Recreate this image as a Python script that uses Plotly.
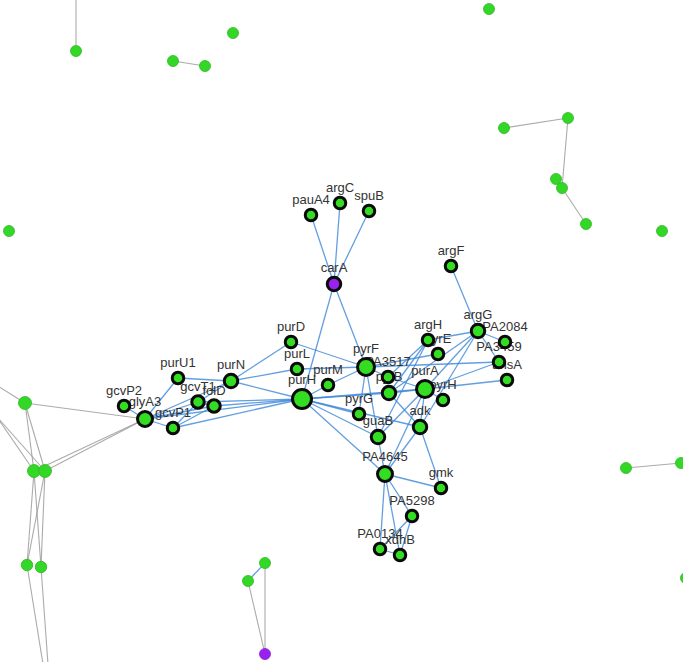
import plotly.graph_objects as go

# ---------------- data ----------------
# labelled (core) genes: name, layout x, layout y
core_names = ["pauA4", "argC", "spuB", "carA", "argF", "argG", "PA2084", "PA3459",
              "argH", "pyrE", "ansA", "purA", "pyrH", "PA3517", "pyrB", "pyrF",
              "purD", "purL", "purM", "purH", "pyrG", "guaB", "adk", "PA4645",
              "gmk", "PA5298", "PA0134", "xdhB", "purN", "purU1", "gcvT1", "folD",
              "gcvP2", "glyA3", "gcvP1"]
core_x = [311, 340, 369, 334, 451, 478, 505, 499,
          428, 438, 507, 425, 443, 388, 389, 366,
          291, 297, 328, 302, 359, 378, 420, 385,
          441, 412, 380, 400, 231, 178, 198, 214,
          124, 145, 173]
core_y = [215, 203, 211, 284, 266, 331, 342, 362,
          340, 354, 380, 389, 400, 377, 393, 367,
          342, 369, 385, 399, 414, 437, 427, 474,
          488, 516, 549, 555, 381, 378, 402, 406,
          406, 419, 428]
core_degree = [1, 1, 1, 5, 1, 6, 1, 3,
               3, 2, 2, 10, 1, 3, 5, 9,
               3, 3, 2, 16, 2, 5, 5, 8,
               2, 3, 3, 3, 5, 2, 4, 4,
               1, 8, 3]
core_group = ["g", "g", "g", "p", "g", "g", "g", "g",
              "g", "g", "g", "g", "g", "g", "g", "g",
              "g", "g", "g", "g", "g", "g", "g", "g",
              "g", "g", "g", "g", "g", "g", "g", "g",
              "g", "g", "g"]

core_edges = [
    ("carA", "pauA4"), ("carA", "argC"), ("carA", "spuB"), ("carA", "purH"), ("carA", "pyrF"),
    ("argF", "argG"), ("argG", "argH"), ("argG", "PA2084"), ("argG", "PA3459"), ("argG", "purA"),
    ("argG", "pyrB"), ("argG", "adk"), ("argH", "PA3517"), ("argH", "pyrB"), ("argH", "guaB"),
    ("pyrE", "pyrF"), ("pyrF", "PA3459"), ("purA", "ansA"), ("purA", "PA3459"), ("purA", "pyrH"),
    ("purA", "purH"), ("purA", "pyrB"), ("purA", "adk"), ("purA", "guaB"), ("purA", "PA4645"),
    ("purA", "PA3517"), ("purH", "pyrB"), ("purH", "adk"), ("purH", "guaB"), ("purH", "PA4645"),
    ("purH", "pyrG"), ("purH", "purN"), ("purH", "gcvT1"), ("purH", "folD"), ("purH", "glyA3"),
    ("purH", "gcvP1"), ("purH", "purM"), ("purD", "pyrF"), ("purD", "purN"), ("purL", "pyrF"),
    ("purL", "purN"), ("purM", "pyrF"), ("pyrF", "pyrG"), ("pyrF", "guaB"), ("pyrF", "PA3517"),
    ("pyrB", "adk"), ("guaB", "PA4645"), ("adk", "PA4645"), ("adk", "gmk"), ("PA4645", "gmk"),
    ("PA4645", "PA5298"), ("PA4645", "PA0134"), ("PA4645", "xdhB"), ("PA5298", "PA0134"),
    ("PA5298", "xdhB"), ("PA0134", "xdhB"), ("purN", "purU1"), ("purN", "gcvT1"), ("purN", "glyA3"),
    ("purU1", "glyA3"), ("glyA3", "gcvP2"), ("glyA3", "gcvT1"), ("glyA3", "folD"),
    ("glyA3", "gcvP1"), ("gcvT1", "folD"), ("gcvP1", "folD"), ("gcvT1", "gcvP1"),
]

# unlabelled peripheral genes
per_names = ["n1", "n1o", "n2", "n3", "n4", "n5", "n6", "n7", "n8", "n9", "n10",
             "n11", "n12", "n13", "n14", "n15", "n16", "n17", "n18", "n19",
             "o1", "o2", "o3", "o4", "n20", "n21", "n22"]
per_x = [76, 76, 233, 173, 205, 489, 504, 568, 556, 562, 586,
         662, 9, 25, 34, 45, 27, 41, 626, 681,
         -12, -25, -25, 52, 686, 248, 265]
per_y = [51, -40, 33, 61, 66, 9, 128, 118, 179, 188, 224,
         231, 231, 403, 471, 471, 565, 567, 468, 463,
         380, 385, 392, 720, 578, 581, 563]
per_degree = [1, 1, 0, 1, 1, 0, 1, 2, 0, 2, 1,
              0, 0, 4, 5, 5, 3, 3, 1, 1,
              1, 1, 1, 2, 0, 2, 2]
purple_names = ["n23"]
purple_x = [265]
purple_y = [654]

per_edges = [
    ("n1", "n1o"), ("n3", "n4"), ("n6", "n7"), ("n7", "n9"), ("n9", "n10"), ("n18", "n19"),
    ("n13", "glyA3"), ("n13", "o1"), ("n13", "n14"), ("n13", "n15"),
    ("n14", "glyA3"), ("n15", "glyA3"), ("n14", "o2"), ("n15", "o3"),
    ("n14", "n16"), ("n14", "n17"), ("n15", "n16"), ("n15", "n17"),
    ("n16", "o4"), ("n17", "o4"), ("n22", "n23"), ("n21", "n23"),
]
per_blue_edges = [("n21", "n22")]

# ---------------- build ----------------
pos = {}
for n, x, y in zip(core_names, core_x, core_y):
    pos[n] = (x, y)
for n, x, y in zip(per_names, per_x, per_y):
    pos[n] = (x, y)
for n, x, y in zip(purple_names, purple_x, purple_y):
    pos[n] = (x, y)


def edge_xy(edges):
    xs, ys = [], []
    for a, b in edges:
        xs += [pos[a][0], pos[b][0], None]
        ys += [pos[a][1], pos[b][1], None]
    return xs, ys


def core_size(d):
    if d >= 16:
        return 19
    if d >= 9:
        return 17
    if d >= 8:
        return 15
    if d >= 5:
        return 13.5
    if d >= 4:
        return 12.5
    return 11.5


fig = go.Figure()

gx, gy = edge_xy(per_edges)
fig.add_trace(go.Scatter(x=gx, y=gy, mode="lines",
                         line=dict(color="rgba(150,150,150,0.8)", width=1.1),
                         hoverinfo="skip"))
bx, by = edge_xy(core_edges + per_blue_edges)
fig.add_trace(go.Scatter(x=bx, y=by, mode="lines",
                         line=dict(color="rgba(60,135,215,0.8)", width=1.3),
                         hoverinfo="skip"))

# peripheral nodes
psz = [13 if d >= 4 else (11.5 if d >= 3 else 11) for d in per_degree]
fig.add_trace(go.Scatter(x=per_x, y=per_y, mode="markers",
                         marker=dict(size=psz, color="#33d726", opacity=1,
                                     line=dict(color="#2fb824", width=0.8)),
                         hoverinfo="skip"))
fig.add_trace(go.Scatter(x=purple_x, y=purple_y, mode="markers",
                         marker=dict(size=11, color="#9a22ee", opacity=1,
                                     line=dict(color="#8420d0", width=0.8)),
                         hoverinfo="skip"))

sizes = [core_size(d) for d in core_degree]
colors = ["#9a22ee" if g == "p" else "#33dd22" for g in core_group]

# labels (drawn below the nodes)
fig.add_trace(go.Scatter(x=core_x, y=core_y, mode="markers+text",
                         text=core_names, textposition="top center",
                         textfont=dict(family="Liberation Sans, Arial, sans-serif",
                                       size=13, color="#333333"),
                         marker=dict(size=[s - 1 for s in sizes], opacity=0),
                         hoverinfo="skip"))
fig.add_trace(go.Scatter(x=core_x, y=core_y, mode="markers",
                         marker=dict(size=sizes, color=colors, opacity=1,
                                     line=dict(color="#0a0a0a", width=3)),
                         hoverinfo="skip"))

fig.update_layout(
    width=683, height=662,
    margin=dict(l=0, r=0, t=0, b=0),
    paper_bgcolor="white", plot_bgcolor="white",
    showlegend=False,
    xaxis=dict(range=[0, 683], visible=False, fixedrange=True),
    yaxis=dict(range=[662, 0], visible=False, fixedrange=True),
)

fig.write_html("out.html")
